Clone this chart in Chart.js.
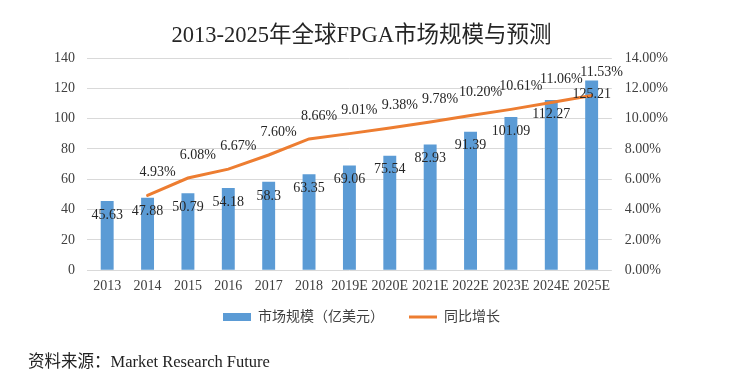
<!DOCTYPE html>
<html>
<head>
<meta charset="utf-8">
<script src="https://cdn.jsdelivr.net/npm/chart.js@4/dist/chart.umd.min.js"></script>
<style>
  html, body { margin: 0; padding: 0; background: #ffffff; }
  #wrap { position: relative; width: 738px; height: 381px; overflow: hidden; }
  #source { position: absolute; left: 28px; top: 352px; font-family: 'Liberation Serif', 'Noto Sans CJK SC', serif; font-size: 16.5px; line-height: 20px; color: #222222; white-space: nowrap; }
</style>
</head>
<body>
<div id="wrap">
  <canvas id="c" width="738" height="381"></canvas>
  <div id="source">资料来源：Market Research Future</div>
</div>
<script>
const categories = ['2013', '2014', '2015', '2016', '2017', '2018', '2019E', '2020E', '2021E', '2022E', '2023E', '2024E', '2025E'];
const marketSize = [45.63, 47.88, 50.79, 54.18, 58.3, 63.35, 69.06, 75.54, 82.93, 91.39, 101.09, 112.27, 125.21];
const growthPct = [null, 4.93, 6.08, 6.67, 7.60, 8.66, 9.01, 9.38, 9.78, 10.20, 10.61, 11.06, 11.53];
const leftTicks = [0, 20, 40, 60, 80, 100, 120, 140];
const rightTicks = [0, 2, 4, 6, 8, 10, 12, 14];

const BAR_COLOR = '#5B9BD5';
const LINE_COLOR = '#ED7D31';
const FONT = "'Liberation Serif', 'Noto Sans CJK SC', serif";

const valueLabels = {
  id: 'valueLabels',
  afterDatasetsDraw(chart) {
    const ctx = chart.ctx;
    ctx.save();
    ctx.font = '14px ' + FONT;
    ctx.fillStyle = '#262626';
    ctx.textAlign = 'center';
    ctx.textBaseline = 'middle';
    const barMeta = chart.getDatasetMeta(0);
    barMeta.data.forEach((el, i) => {
      ctx.fillText(String(marketSize[i]), el.x, el.y + 14);
    });
    const lineMeta = chart.getDatasetMeta(1);
    lineMeta.data.forEach((el, i) => {
      const v = growthPct[i];
      if (v === null) return;
      ctx.fillText(v.toFixed(2) + '%', el.x + 10, el.y - 23);
    });
    ctx.restore();
  }
};

const legendShift = {
  id: 'legendShift',
  afterLayout(chart) {
    if (chart.legend) {
      chart.legend.top -= 18;
      chart.legend.bottom -= 18;
    }
  }
};

new Chart(document.getElementById('c'), {
  type: 'bar',
  data: {
    labels: categories,
    datasets: [
      {
        type: 'bar',
        label: '市场规模（亿美元）',
        data: marketSize,
        backgroundColor: BAR_COLOR,
        borderWidth: 0,
        categoryPercentage: 1,
        barPercentage: 0.32,
        yAxisID: 'y',
        order: 2
      },
      {
        type: 'line',
        label: '同比增长',
        data: growthPct,
        borderColor: LINE_COLOR,
        backgroundColor: LINE_COLOR,
        borderWidth: 3,
        pointRadius: 0,
        tension: 0,
        borderCapStyle: 'round',
        spanGaps: false,
        yAxisID: 'y1',
        order: 1
      }
    ]
  },
  options: {
    responsive: false,
    animation: false,
    devicePixelRatio: 1,
    layout: { padding: { left: 42, right: 57, top: 0, bottom: 29 } },
    scales: {
      x: {
        grid: { display: false, drawTicks: false },
        border: { display: false },
        ticks: { color: '#404040', font: { family: FONT, size: 14 }, padding: 8, maxRotation: 0, autoSkip: false }
      },
      y: {
        position: 'left',
        min: 0, max: 140,
        afterBuildTicks(scale) { scale.ticks = leftTicks.map(v => ({ value: v })); },
        grid: { color: '#D9D9D9', lineWidth: 1, drawTicks: false },
        border: { display: false },
        ticks: { color: '#404040', font: { family: FONT, size: 14 }, padding: 12 }
      },
      y1: {
        position: 'right',
        min: 0, max: 14,
        afterBuildTicks(scale) { scale.ticks = rightTicks.map(v => ({ value: v })); },
        grid: { display: false, drawTicks: false },
        border: { display: false },
        ticks: { color: '#404040', font: { family: FONT, size: 14 }, padding: 13, callback: v => Number(v).toFixed(2) + '%' }
      }
    },
    plugins: {
      title: {
        display: true,
        text: '2013-2025年全球FPGA市场规模与预测',
        color: '#262626',
        font: { family: FONT, size: 22.5, weight: 'normal' },
        padding: { top: 23, bottom: 8 }
      },
      legend: {
        display: true,
        position: 'bottom',
        labels: {
          color: '#404040',
          font: { family: FONT, size: 14 },
          usePointStyle: true,
          pointStyleWidth: 28,
          boxHeight: 8,
          padding: 25,
          sort: (a, b) => a.datasetIndex - b.datasetIndex,
          generateLabels(chart) {
            const items = Chart.defaults.plugins.legend.labels.generateLabels(chart);
            items.forEach(it => {
              if (it.datasetIndex === 0) {
                it.pointStyle = 'rect';
                it.lineWidth = 0;
                it.fillStyle = BAR_COLOR;
              } else {
                it.pointStyle = 'line';
                it.lineWidth = 3;
                it.strokeStyle = LINE_COLOR;
              }
            });
            return items;
          }
        }
      },
      tooltip: { enabled: false }
    }
  },
  plugins: [valueLabels, legendShift]
});
</script>
</body>
</html>
